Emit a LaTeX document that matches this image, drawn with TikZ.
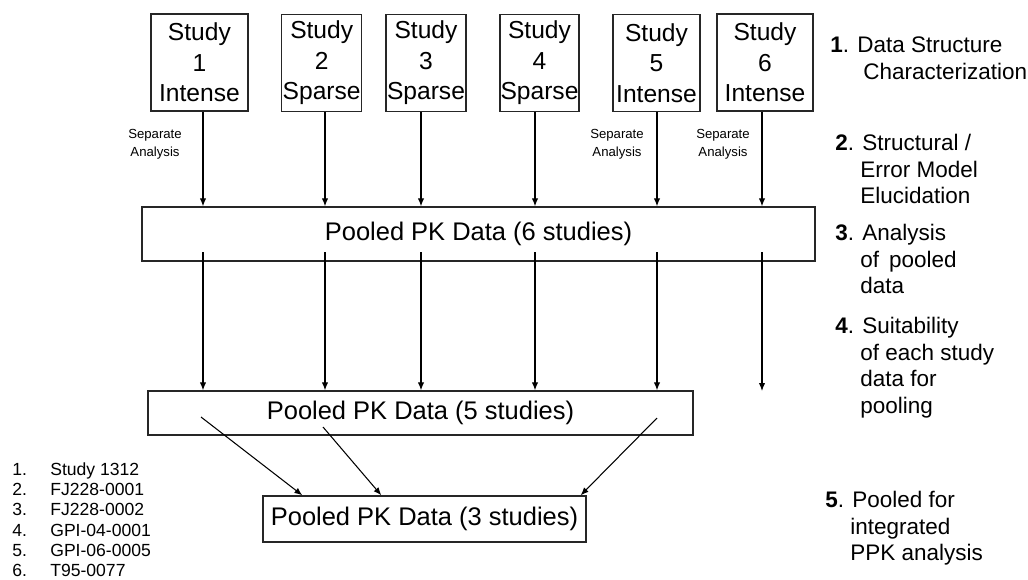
\documentclass[tikz,border=0pt]{standalone}
\usepackage{fontspec}
\setmainfont{Liberation Sans}
\usepackage{tikz}
\usetikzlibrary{arrows.meta, positioning}

\begin{document}
\begin{tikzpicture}[x=0.02cm, y=-0.02cm,
			study/.style={rectangle, draw=black!85, line width=0.8pt,
				align=center, inner sep=0pt, minimum height=1.94cm,
				font=\fontsize{14}{17.3}\selectfont},
			pool/.style={rectangle, draw=black!85, line width=0.8pt,
				inner sep=0pt, font=\fontsize{14.5}{17}\selectfont},
			arr/.style={-{Latex[length=4.5pt,width=3.6pt]}, line width=0.6pt},
			sep/.style={align=center, inner sep=0pt,
				font=\fontsize{7.5}{10.2}\selectfont},
			task/.style={anchor=north west, align=left, inner sep=0pt,
				font=\fontsize{12.8}{15.3}\selectfont},
			ids/.style={anchor=north west, align=left, inner sep=0pt,
				font=\fontsize{10}{11.6}\selectfont}
			]
			\useasboundingbox (0,0) rectangle (1028,579);
			
			\node[study, minimum width=1.94cm] (s1) at (199.4,62.5) {Study\\1\\Intense};
			\node[study, minimum width=1.60cm] (s2) at (321.7,63) {Study\\2\\Sparse};
			\node[study, minimum width=1.60cm] (s3) at (426,63)   {Study\\3\\Sparse};
			\node[study, minimum width=1.58cm] (s4) at (539.5,63) {Study\\4\\Sparse};
			\node[study, minimum width=1.74cm] (s5) at (656.5,63) {Study\\5\\Intense};
			\node[study, minimum width=1.92cm] (s6) at (765,62.5) {Study\\6\\Intense};
			
			\node[pool, minimum width=13.46cm, minimum height=1.08cm] (p6) at (478.5,234) {Pooled PK Data (6 studies)};
			\node[pool, minimum width=10.90cm, minimum height=0.88cm] (p5) at (420.5,413) {Pooled PK Data (5 studies)};
			\node[pool, minimum width=6.46cm, minimum height=0.92cm]  (p3) at (424.5,519) {Pooled PK Data (3 studies)};
			
			\node[sep] (sa1) at (155,144) {Separate\\Analysis};
			\node[sep] (sa5) at (617,144) {Separate\\Analysis};
			\node[sep] (sa6) at (723,144) {Separate\\Analysis};
			
			% arrow columns
			\coordinate (c1) at (203,252);
			\coordinate (c2) at (325,252);
			\coordinate (c3) at (421,252);
			\coordinate (c4) at (535,252);
			\coordinate (c5) at (657,252);
			\coordinate (c6) at (762,252);
			\coordinate (e6) at (762,391);
			\coordinate (d1) at (201,417);
			\coordinate (d2) at (323,427);
			\coordinate (d3) at (657,418);
			
			\draw[arr] (s1.south -| c1) -- (p6.north -| c1);
			\draw[arr] (s2.south -| c2) -- (p6.north -| c2);
			\draw[arr] (s3.south -| c3) -- (p6.north -| c3);
			\draw[arr] (s4.south -| c4) -- (p6.north -| c4);
			\draw[arr] (s5.south -| c5) -- (p6.north -| c5);
			\draw[arr] (s6.south -| c6) -- (p6.north -| c6);
			
			\draw[arr] (c1) -- (p5.north -| c1);
			\draw[arr] (c2) -- (p5.north -| c2);
			\draw[arr] (c3) -- (p5.north -| c3);
			\draw[arr] (c4) -- (p5.north -| c4);
			\draw[arr] (c5) -- (p5.north -| c5);
			\draw[arr] (c6) -- (e6);
			
			\draw[arr] (d1) -- ([xshift=0.80cm]p3.north west);
			\draw[arr] (d2) -- ([xshift=2.38cm]p3.north west);
			\draw[arr] (d3) -- ([xshift=-0.12cm]p3.north east);
			
			% steps on the right
			\node[task] (t1) at (830,36.5)  {\textbf{1}. Data Structure\\\hspace*{0.66cm}Characterization};
			\node[task] (t2) at (835,133.5) {\textbf{2}. Structural /\\\hspace*{0.5cm}Error Model\\\hspace*{0.5cm}Elucidation};
			\node[task] (t3) at (835,223.5) {\textbf{3}. Analysis\\\hspace*{0.5cm}of\, pooled\\\hspace*{0.5cm}data};
			\node[task] (t4) at (835,316.5) {\textbf{4}. Suitability\\\hspace*{0.5cm}of each study\\\hspace*{0.5cm}data for\\\hspace*{0.5cm}pooling};
			\node[task] (t5) at (825,490.5) {\textbf{5}. Pooled for\\\hspace*{0.5cm}integrated\\\hspace*{0.5cm}PPK analysis};
			
			% study list
			\node[ids] (list) at (12,462) {\makebox[0.76cm][l]{1.}Study 1312\\
				\makebox[0.76cm][l]{2.}FJ228-0001\\
				\makebox[0.76cm][l]{3.}FJ228-0002\\
				\makebox[0.76cm][l]{4.}GPI-04-0001\\
				\makebox[0.76cm][l]{5.}GPI-06-0005\\
				\makebox[0.76cm][l]{6.}T95-0077};
		\end{tikzpicture}
\end{document}
